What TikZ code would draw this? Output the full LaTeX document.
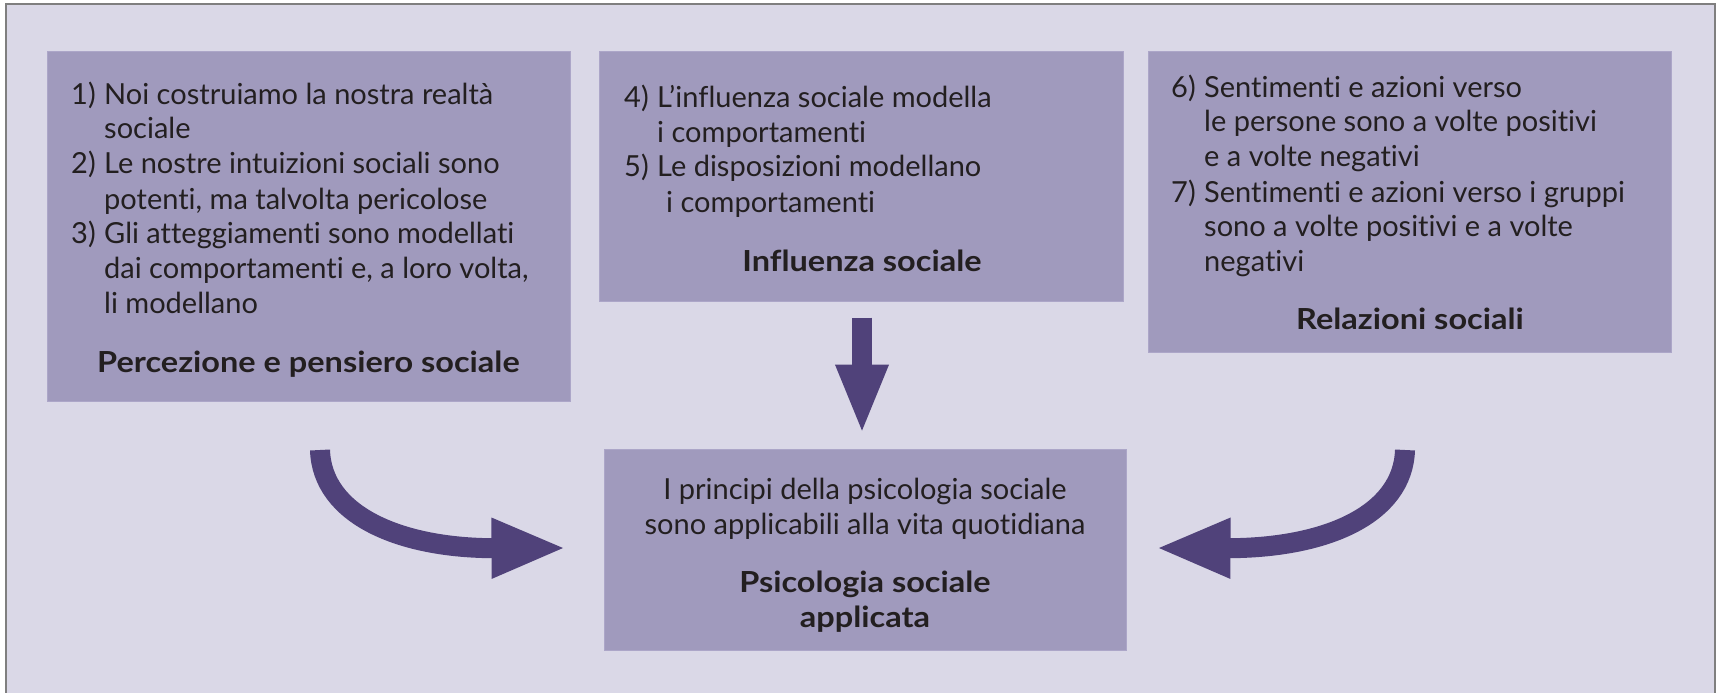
\documentclass[tikz,border=0pt]{standalone}
\usepackage{fontspec}
\usepackage{graphicx}
\setmainfont{Lato}[Ligatures={NoCommon}]
\usetikzlibrary{arrows.meta}
\definecolor{bgl}{HTML}{DAD8E7}
\definecolor{boxc}{HTML}{A09ABD}
\definecolor{boxe}{HTML}{ACA6C8}
\definecolor{arrc}{HTML}{50427A}
\definecolor{txtc}{HTML}{231F20}
\definecolor{framec}{HTML}{7F7F7F}
\newcommand\numlab[1]{\makebox[33pt][l]{#1}}
\newcommand\wide[1]{\scalebox{1.12}[1]{#1}}
\begin{document}
\begin{tikzpicture}[x=1pt,y=-1pt,
  panel/.style={rectangle, fill=boxc, draw=boxe, line width=1pt, inner sep=0pt},
  txtblk/.style={inner sep=0pt, text=txtc, font=\fontsize{29}{35}\selectfont},
  titl/.style={inner sep=0pt, text=txtc, font=\fontsize{29}{35}\selectfont\bfseries},
  bigarrow/.style={draw=arrc, line width=20pt, -{Triangle[length=75pt,width=55pt]}},
  downarrow/.style={draw=arrc, line width=20pt, -{Triangle[length=70pt,width=48pt]}}
]
\useasboundingbox (0,0) rectangle (1717,693);
\fill[white] (0,0) rectangle (1717,693);
\fill[bgl] (6,4) rectangle (1715,693);
\draw[framec, line width=1.5pt] (6,693) -- (6,4) -- (1715,4) -- (1715,693);

% boxes
\node[panel, minimum width=523pt, minimum height=349pt] (b1) at (308.5,226.5) {};
\node[panel, minimum width=524pt, minimum height=249pt] (b2) at (861,176.5) {};
\node[panel, minimum width=523pt, minimum height=300pt] (b3) at (1409.5,202) {};
\node[panel, minimum width=522pt, minimum height=201pt] (b4) at (865,549.5) {};

% box 1 text
\node[txtblk, anchor=base west] (t1) at (71,104) {\begin{tabular}[t]{@{}l@{}l@{}}
\numlab{1)}&Noi costruiamo la nostra realtà\\
&sociale\\
\numlab{2)}&Le nostre intuizioni sociali sono\\
&potenti, ma talvolta pericolose\\
\numlab{3)}&Gli atteggiamenti sono modellati\\
&dai comportamenti e, a loro volta,\\
&li modellano
\end{tabular}};
\node[titl, anchor=base] (h1) at (308.5,372) {\wide{Percezione e pensiero sociale}};

% box 2 text
\node[txtblk, anchor=base west] (t2) at (624,107) {\begin{tabular}[t]{@{}l@{}l@{}}
\numlab{4)}&L’influenza sociale modella\\
&i comportamenti\\
\numlab{5)}&Le disposizioni modellano\\
&\hspace{9pt}i comportamenti
\end{tabular}};
\node[titl, anchor=base] (h2) at (862,271) {\wide{Influenza sociale}};

% box 3 text
\node[txtblk, anchor=base west] (t3) at (1171,97) {\begin{tabular}[t]{@{}l@{}l@{}}
\numlab{6)}&Sentimenti e azioni verso\\
&le persone sono a volte positivi\\
&e a volte negativi\\
\numlab{7)}&Sentimenti e azioni verso i gruppi\\
&sono a volte positivi e a volte\\
&negativi
\end{tabular}};
\node[titl, anchor=base] (h3) at (1410,329) {\wide{Relazioni sociali}};

% box 4 text
\node[txtblk, anchor=base] (t4) at (865,499) {\begin{tabular}[t]{@{}c@{}}
I principi della psicologia sociale\\
sono applicabili alla vita quotidiana
\end{tabular}};
\node[titl, anchor=base] (h4) at (865,592) {\begin{tabular}[t]{@{}c@{}}
\wide{Psicologia sociale}\\
\wide{applicata}
\end{tabular}};

% arrows
\coordinate (ls) at (320,450);
\coordinate (rs) at (1405,450);
\draw[downarrow] ([xshift=1pt,yshift=-16pt]b2.south) -- ([xshift=-3pt,yshift=14pt]b4.north);
\draw[bigarrow] (ls) .. controls (322,515) and (400,548.5) .. ([xshift=-37pt,yshift=1.5pt]b4.west);
\draw[bigarrow] (rs) .. controls (1403,515) and (1325,548.5) .. ([xshift=29pt,yshift=1.5pt]b4.east);
\end{tikzpicture}
\end{document}
